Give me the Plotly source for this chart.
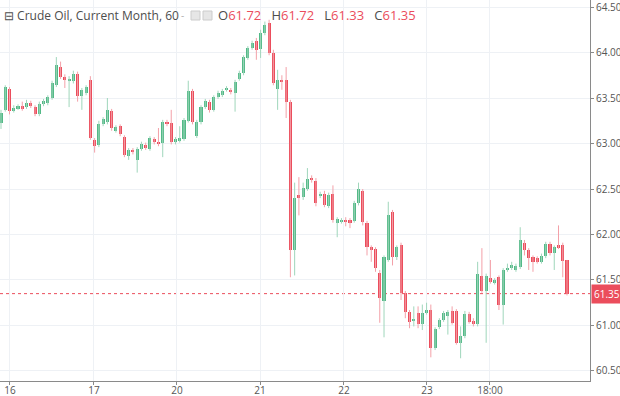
import plotly.graph_objects as go

# ---- data (hourly candles) ----
opens = [63.23, 63.37, 63.60, 63.36, 63.39, 63.41, 63.40, 63.45, 63.40, 63.32, 63.43, 63.45, 63.50, 63.64, 63.84, 63.73, 63.69, 63.69, 63.76, 63.52, 63.55, 63.70, 63.04, 62.98,
         63.21, 63.24, 63.36, 63.14, 63.19, 63.07, 62.86, 62.93, 62.82, 62.94, 62.98, 62.94, 63.05, 63.02, 63.01, 63.24, 63.23, 63.02, 63.03, 63.05, 63.25, 63.58, 63.08, 63.24,
         63.40, 63.46, 63.37, 63.51, 63.53, 63.59, 63.59, 63.55, 63.71, 63.77, 63.94, 64.05, 64.13, 64.04, 64.21, 64.32, 63.99, 63.60, 63.70, 63.70, 63.46, 61.83,
         62.43, 62.41, 62.50, 62.62, 62.59, 62.42, 62.45, 62.31, 62.45, 62.13, 62.14, 62.16, 62.16, 62.15, 62.35, 62.48, 62.13, 61.86, 61.84, 61.58, 61.27, 61.72, 62.25, 61.75,
         61.88, 61.36, 61.15, 61.05, 61.14, 61.02, 61.14, 61.17, 60.75, 60.98, 61.06, 61.10, 61.16, 61.16, 60.81, 60.88, 61.13, 61.05, 61.02, 61.54, 61.38, 61.52, 61.47,
         61.53, 61.23, 61.61, 61.63, 61.61, 61.64, 61.91, 61.83, 61.75, 61.74, 61.70, 61.76, 61.90, 61.80, 61.88, 61.88, 61.72]
highs = [63.37, 63.64, 63.62, 63.42, 63.43, 63.46, 63.48, 63.47, 63.42, 63.46, 63.49, 63.53, 63.69, 63.95, 63.90, 63.76, 63.74, 63.80, 63.79, 63.61, 63.64, 63.74, 63.06, 63.25,
         63.29, 63.50, 63.38, 63.20, 63.21, 63.09, 62.95, 62.95, 62.96, 63.02, 63.01, 63.08, 63.07, 63.17, 63.26, 63.26, 63.37, 63.07, 63.19, 63.28, 63.69, 63.60, 63.26, 63.42,
         63.49, 63.48, 63.53, 63.58, 63.60, 63.63, 63.61, 63.70, 63.80, 63.97, 64.07, 64.13, 64.16, 64.25, 64.34, 64.36, 64.03, 63.81, 63.75, 63.84, 63.48, 62.57,
         62.63, 62.57, 62.73, 62.65, 62.62, 62.47, 62.48, 62.46, 62.54, 62.19, 62.18, 62.19, 62.18, 62.37, 62.57, 62.50, 62.15, 61.88, 61.86, 61.61, 61.77, 62.36, 62.27, 61.88,
         61.91, 61.38, 61.17, 61.21, 61.21, 61.23, 61.25, 61.23, 60.98, 61.08, 61.16, 61.17, 61.21, 61.18, 60.99, 61.16, 61.15, 61.08, 61.70, 61.85, 61.57, 61.72, 61.52,
         61.55, 61.63, 61.68, 61.70, 61.68, 62.08, 61.94, 61.85, 61.77, 61.76, 61.79, 61.92, 61.92, 61.88, 62.10, 61.91, 61.72]
lows = [63.16, 63.35, 63.32, 63.34, 63.37, 63.36, 63.38, 63.39, 63.30, 63.30, 63.41, 63.42, 63.48, 63.62, 63.71, 63.61, 63.40, 63.66, 63.46, 63.37, 63.53, 63.04, 62.90, 62.96,
        63.19, 63.21, 63.14, 63.12, 63.08, 62.85, 62.82, 62.88, 62.68, 62.92, 62.93, 62.92, 62.99, 62.97, 62.85, 63.19, 62.99, 62.99, 63.01, 63.03, 63.23, 63.21, 63.06, 63.21,
        63.38, 63.34, 63.35, 63.49, 63.51, 63.57, 63.54, 63.35, 63.69, 63.75, 63.92, 64.03, 63.92, 63.94, 64.19, 63.97, 63.64, 63.37, 63.59, 63.28, 61.53, 61.55,
        62.21, 62.38, 62.48, 62.57, 62.31, 62.40, 62.30, 62.29, 62.13, 61.97, 62.12, 62.09, 62.07, 62.13, 62.32, 62.10, 61.77, 61.70, 61.59, 61.03, 60.87, 61.70, 61.66, 61.72,
        61.28, 61.08, 60.97, 60.99, 60.97, 60.95, 61.12, 60.65, 60.73, 60.96, 61.04, 60.90, 61.01, 60.79, 60.64, 60.86, 61.02, 60.99, 60.99, 61.36, 60.81, 61.46, 61.45,
        61.17, 61.01, 61.59, 61.61, 61.59, 61.62, 61.77, 61.61, 61.59, 61.68, 61.68, 61.74, 61.77, 61.61, 61.84, 61.53, 61.33]
closes = [63.34, 63.62, 63.36, 63.39, 63.41, 63.38, 63.45, 63.41, 63.32, 63.43, 63.47, 63.51, 63.66, 63.86, 63.73, 63.70, 63.71, 63.76, 63.52, 63.59, 63.62, 63.06, 62.97, 63.21,
          63.27, 63.37, 63.17, 63.18, 63.10, 62.87, 62.93, 62.91, 62.94, 62.99, 62.95, 63.06, 63.02, 62.99, 63.24, 63.21, 63.02, 63.05, 63.06, 63.26, 63.58, 63.24, 63.24, 63.40,
          63.47, 63.37, 63.51, 63.55, 63.58, 63.61, 63.57, 63.68, 63.77, 63.95, 64.05, 64.10, 64.03, 64.21, 64.30, 63.99, 63.66, 63.70, 63.68, 63.46, 61.83, 62.40,
          62.40, 62.51, 62.61, 62.60, 62.35, 62.45, 62.32, 62.43, 62.16, 62.17, 62.16, 62.14, 62.13, 62.35, 62.50, 62.14, 61.86, 61.84, 61.63, 61.30, 61.75, 62.21, 61.75, 61.86,
          61.36, 61.15, 61.04, 61.07, 61.02, 61.14, 61.17, 60.75, 60.96, 61.06, 61.14, 61.15, 61.03, 60.81, 60.88, 61.13, 61.04, 61.02, 61.57, 61.38, 61.54, 61.48, 61.50,
          61.23, 61.61, 61.63, 61.66, 61.65, 61.94, 61.83, 61.74, 61.70, 61.70, 61.76, 61.90, 61.80, 61.86, 61.86, 61.71, 61.35]

day_tick_pos = [2.1, 21.85, 41.35, 60.86, 80.59, 100.09, 114.9]
day_tick_text = ["16", "17", "20", "21", "22", "23", "18:00"]
price_ticks = [60.5, 61.0, 61.5, 62.0, 62.5, 63.0, 63.5, 64.0, 64.5]

UP = "#53b987"
DOWN = "#eb4d5c"
UP_WICK = "#9fd6bb"
DOWN_WICK = "#f3a0a8"

n = len(opens)
xs = list(range(n))

fig = go.Figure()

# wicks
for is_up, col in ((True, UP_WICK), (False, DOWN_WICK)):
    wx, wy = [], []
    for i in xs:
        if (closes[i] >= opens[i]) == is_up:
            wx += [i, i, None]
            wy += [lows[i], highs[i], None]
    fig.add_trace(go.Scatter(x=wx, y=wy, mode="lines", line=dict(color=col, width=1),
                             hoverinfo="skip", showlegend=False))

# bodies
for is_up, col in ((True, UP), (False, DOWN)):
    bx, bbase, bh = [], [], []
    for i in xs:
        if (closes[i] >= opens[i]) == is_up:
            bx.append(i)
            bbase.append(min(opens[i], closes[i]))
            bh.append(max(abs(closes[i] - opens[i]), 0.02))
    fig.add_trace(go.Bar(x=bx, y=bh, base=bbase, width=0.72, marker=dict(color=col, line=dict(width=0)),
                         showlegend=False, hoverinfo="skip"))

last = closes[-1]
fig.add_shape(type="line", xref="paper", x0=0, x1=1, yref="y", y0=last, y1=last,
              line=dict(color=DOWN, width=1, dash="dot"), layer="below")

fig.add_annotation(xref="paper", x=1.0, xanchor="left", yref="y", y=last, yanchor="middle",
                   text=f"{last:.2f}", showarrow=False, bgcolor=DOWN, borderpad=2,
                   font=dict(color="white", size=10, family="Open Sans"), xshift=1)

# header
fig.add_annotation(xref="paper", yref="paper", x=2/590, y=1-15/381, xanchor="left", yanchor="middle",
                   text="⊟ Crude Oil, Current Month, 60", showarrow=False,
                   font=dict(color="#4d4d4d", size=12, family="Open Sans"))
fig.add_annotation(xref="paper", yref="paper", x=179/590, y=1-15/381, xanchor="left", yanchor="middle",
                   text="-", showarrow=False, font=dict(color="#b0b0b0", size=10, family="Open Sans"))
for x0 in (191, 203):
    fig.add_shape(type="rect", xref="paper", yref="paper", x0=x0/590, x1=(x0+9)/590,
                  y0=1-20/381, y1=1-11/381, line=dict(color="#cccccc", width=1), fillcolor="#e6e6e6")
sp = "&nbsp;&nbsp;&nbsp;"
ohlc_txt = (f"O<span style='color:{DOWN}'>{opens[-1]:.2f}</span>{sp}"
            f"H<span style='color:{DOWN}'>{highs[-1]:.2f}</span>{sp}"
            f"L<span style='color:{DOWN}'>{lows[-1]:.2f}</span>{sp}"
            f"C<span style='color:{DOWN}'>{closes[-1]:.2f}</span>")
fig.add_annotation(xref="paper", yref="paper", x=216/590, y=1-15/381, xanchor="left", yanchor="middle",
                   text=ohlc_txt, showarrow=False, font=dict(color="#4d4d4d", size=13, family="Open Sans"))

fig.update_layout(
    width=620, height=396,
    margin=dict(l=0, r=30, t=0, b=15),
    paper_bgcolor="white", plot_bgcolor="white",
    bargap=0, barmode="overlay",
    showlegend=False,
    xaxis=dict(range=[-0.235, 138.4], tickmode="array", tickvals=day_tick_pos, ticktext=day_tick_text,
               showgrid=True, gridcolor="#eef1f5", gridwidth=1, zeroline=False, automargin=False,
               showline=True, linecolor="#8a8a8a", linewidth=1, ticks="outside", ticklen=3,
               ticklabelstandoff=-3, ticklabeloverflow="allow",
               tickcolor="#8a8a8a", tickfont=dict(size=10, color="#555555", family="Open Sans"),
               fixedrange=True),
    yaxis=dict(side="right", range=[60.39, 64.577], tickmode="array", tickvals=price_ticks,
               ticktext=[f"{v:.2f}" for v in price_ticks], automargin=False, ticklabeloverflow="allow",
               showgrid=True, gridcolor="#eef1f5", gridwidth=1, zeroline=False,
               showline=True, linecolor="#8a8a8a", linewidth=1, ticks="outside", ticklen=3,
               tickcolor="#8a8a8a", tickfont=dict(size=10, color="#555555", family="Open Sans"),
               fixedrange=True),
)

fig.write_html("out.html", config={"displayModeBar": False},
               post_script="document.body.style.margin='0';document.body.style.padding='0';")
